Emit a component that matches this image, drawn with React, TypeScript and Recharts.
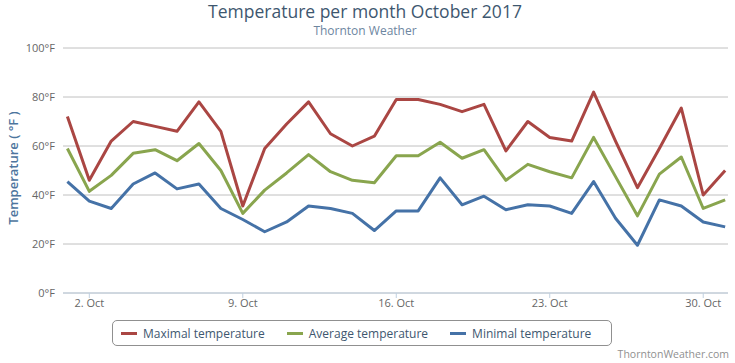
import React from "react";
import { LineChart, Line, XAxis, YAxis, CartesianGrid } from "recharts";

// days of October 2017
const days = [
    1, 2, 3, 4, 5, 6, 7, 8, 9, 10, 11, 12, 13, 14, 15, 16,
    17, 18, 19, 20, 21, 22, 23, 24, 25, 26, 27, 28, 29, 30, 31,
];

const maxTemp = [
    72, 46, 62, 70, 68, 66, 78, 66, 35.5, 59, 69, 78, 65, 60, 64, 79,
    79, 77, 74, 77, 58, 70, 63.5, 62, 82, 62, 43, 59, 75.5, 40, 50,
];
const avgTemp = [
    59, 41.5, 48, 57, 58.5, 54, 61, 50, 32.5, 42, 49, 56.5, 49.5, 46, 45, 56,
    56, 61.5, 55, 58.5, 46, 52.5, 49.5, 47, 63.5, 47.5, 31.5, 48.5, 55.5, 34.5, 38,
];
const minTemp = [
    45.5, 37.5, 34.5, 44.5, 49, 42.5, 44.5, 34.5, 30, 25, 29, 35.5, 34.5, 32.5, 25.5, 33.5,
    33.5, 47, 36, 39.5, 34, 36, 35.5, 32.5, 45.5, 30.5, 19.5, 38, 35.5, 29, 27,
];

const xTicks = [2, 9, 16, 23, 30];
const yTicks = [0, 20, 40, 60, 80, 100];

const series = [
    { key: "max", name: "Maximal temperature", color: "#AA4643" },
    { key: "avg", name: "Average temperature", color: "#89A54E" },
    { key: "min", name: "Minimal temperature", color: "#4572A7" },
];

const chartData = days.map((d, i) => ({
    day: d,
    max: maxTemp[i],
    avg: avgTemp[i],
    min: minTemp[i],
}));

const font = "'Open Sans', 'DejaVu Sans', sans-serif";

const App = () => {
    return (
        <div style={{ position: "absolute", left: 0, top: 0, width: 735, height: 363, background: "#fff", fontFamily: font }}>
            {/* title + subtitle drawn in a small svg so baselines are exact */}
            <svg width={735} height={40} style={{ position: "absolute", left: 0, top: 0 }}>
                <text x={365} y={17.5} textAnchor="middle" fontSize={17.5} fill="#3E576F" fontFamily={font}>
                    Temperature per month October 2017
                </text>
                <text x={365} y={35} textAnchor="middle" fontSize={12} fill="#6D869F" fontFamily={font}>
                    Thornton Weather
                </text>
            </svg>
            <div
                style={{
                    position: "absolute",
                    left: 13,
                    top: 168,
                    transform: "translate(-50%, -50%) rotate(-90deg)",
                    whiteSpace: "nowrap",
                    fontSize: 13,
                    fontWeight: 600,
                    color: "#4D759E",
                }}
            >
                Temperature ( °F )
            </div>

            <LineChart width={735} height={363} data={chartData} margin={{ top: 48, right: 7, bottom: 40, left: 8 }}>
                <CartesianGrid vertical={false} stroke="#C0C0C0" />
                <XAxis
                    dataKey="day"
                    type="number"
                    domain={[0.8, 31.13]}
                    ticks={xTicks}
                    allowDataOverflow
                    height={30}
                    stroke="#C0D0E0"
                    tickSize={5}
                    tickMargin={1}
                    tick={{ fill: "#666", fontSize: 11, fontFamily: font }}
                    tickFormatter={(v) => `${v}. Oct`}
                />
                <YAxis
                    type="number"
                    domain={[0, 100]}
                    ticks={yTicks}
                    width={55}
                    axisLine={false}
                    tickLine={false}
                    tick={{ fill: "#666", fontSize: 11, fontFamily: font }}
                    tickFormatter={(v) => `${v}°F`}
                />
                {series.map((s) => (
                    <Line
                        key={s.key}
                        dataKey={s.key}
                        name={s.name}
                        type="linear"
                        stroke={s.color}
                        strokeWidth={3}
                        strokeLinejoin="round"
                        dot={false}
                        isAnimationActive={false}
                    />
                ))}
            </LineChart>

            <div
                style={{
                    position: "absolute",
                    left: 112,
                    top: 320,
                    width: 500,
                    height: 26,
                    border: "1px solid #909090",
                    borderRadius: 5,
                    display: "flex",
                    alignItems: "center",
                    paddingLeft: 8,
                    boxSizing: "border-box",
                    gap: 22,
                }}
            >
                {series.map((s) => (
                    <div key={s.key} style={{ display: "flex", alignItems: "center", gap: 6 }}>
                        <div style={{ width: 16, height: 3, background: s.color }} />
                        <span style={{ fontSize: 12, color: "#3E576F" }}>{s.name}</span>
                    </div>
                ))}
            </div>
            <div style={{ position: "absolute", right: 6, top: 347, fontSize: 10.5, color: "#909090" }}>ThorntonWeather.com</div>
        </div>
    );
};

export default App;
